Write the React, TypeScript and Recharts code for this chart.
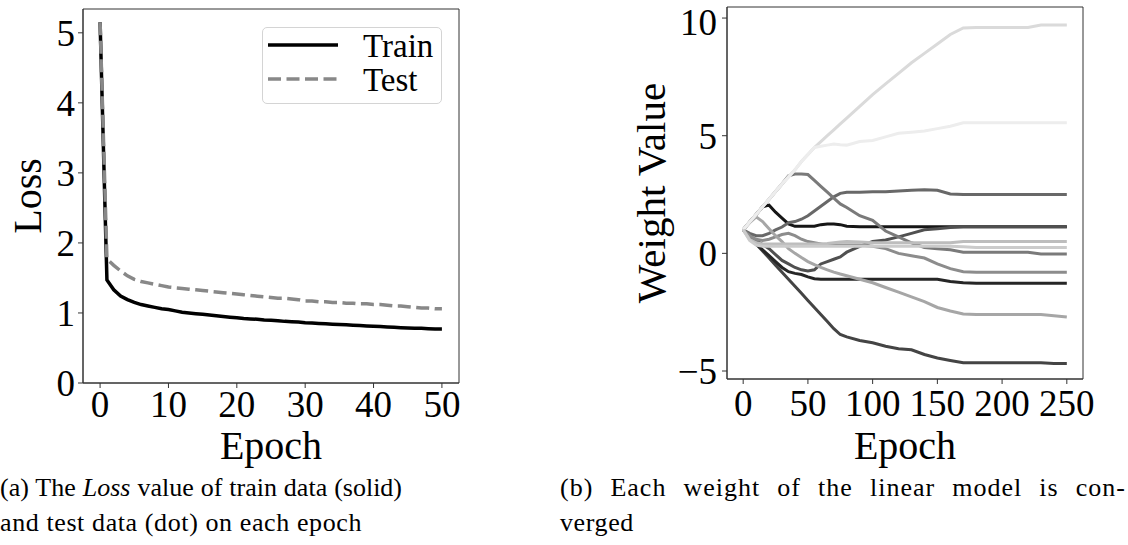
import React from "react";
import { LineChart, Line, XAxis, YAxis, ReferenceArea } from "recharts";

const FONT = "'Liberation Serif', 'Times New Roman', serif";

// (a) loss per epoch
const lossEpochs = [
  0, 1, 2, 3, 4, 5, 6, 7, 8, 9, 10, 11, 12, 13, 14, 15, 16, 17, 18, 19, 20, 21, 22, 23, 24, 25,
  26, 27, 28, 29, 30, 31, 32, 33, 34, 35, 36, 37, 38, 39, 40, 41, 42, 43, 44, 45, 46, 47, 48, 49, 50,
];
const trainLoss = [
  5.15, 1.47, 1.33, 1.24, 1.19, 1.15, 1.12, 1.1, 1.08, 1.06, 1.05, 1.03, 1.01, 1.0, 0.99, 0.98,
  0.97, 0.96, 0.95, 0.94, 0.93, 0.92, 0.915, 0.91, 0.9, 0.895, 0.89, 0.88, 0.875, 0.87, 0.86,
  0.855, 0.85, 0.845, 0.84, 0.835, 0.83, 0.825, 0.82, 0.815, 0.81, 0.805, 0.8, 0.795, 0.79, 0.785,
  0.78, 0.78, 0.775, 0.77, 0.77,
];
const testLoss = [
  5.15, 1.77, 1.68, 1.6, 1.53, 1.48, 1.45, 1.43, 1.41, 1.39, 1.37, 1.36, 1.35, 1.34, 1.33, 1.32,
  1.31, 1.3, 1.29, 1.28, 1.27, 1.26, 1.25, 1.24, 1.23, 1.22, 1.21, 1.21, 1.2, 1.19, 1.17, 1.17,
  1.16, 1.16, 1.15, 1.15, 1.14, 1.14, 1.13, 1.13, 1.12, 1.12, 1.11, 1.1, 1.1, 1.09, 1.08, 1.07,
  1.07, 1.06, 1.06,
];
const lossXTicks = [0, 10, 20, 30, 40, 50];
const lossYTicks = [0, 1, 2, 3, 4, 5];
const lossNames = ["Train", "Test"];

// (b) weight values per epoch
const weightEpochs = [
  0, 5, 10, 15, 20, 25, 30, 35, 40, 45, 50, 55, 60, 65, 70, 75, 80, 90, 100, 110, 120, 130, 140,
  150, 160, 170, 180, 190, 200, 210, 220, 230, 240, 250,
];
const w1 = [1.0, 1.33, 1.65, 1.98, 2.3, 2.63, 2.95, 3.25, 3.55, 3.9, 4.2, 4.5, 4.75, 5.0, 5.25, 5.5, 5.75, 6.25, 6.75, 7.2, 7.65, 8.1, 8.5, 8.9, 9.3, 9.58, 9.6, 9.6, 9.6, 9.6, 9.6, 9.7, 9.7, 9.7];
const w2 = [1.0, 1.33, 1.65, 1.98, 2.3, 2.63, 2.95, 3.25, 3.55, 3.9, 4.2, 4.5, 4.55, 4.6, 4.65, 4.62, 4.6, 4.75, 4.8, 4.95, 5.1, 5.15, 5.2, 5.3, 5.4, 5.55, 5.55, 5.55, 5.55, 5.55, 5.55, 5.55, 5.55, 5.55];
const w3 = [1.0, 1.33, 1.65, 1.98, 2.3, 2.63, 2.95, 3.3, 3.37, 3.37, 3.35, 3.1, 2.85, 2.6, 2.35, 2.1, 1.95, 1.6, 1.4, 0.95, 0.7, 0.45, 0.25, 0.2, 0.15, 0.05, 0.05, 0.05, 0.05, 0.05, 0.05, -0.03, -0.03, -0.03];
const w4 = [1.0, 0.85, 0.75, 0.75, 0.85, 1.0, 1.12, 1.3, 1.35, 1.45, 1.6, 1.8, 2.0, 2.2, 2.4, 2.55, 2.6, 2.6, 2.62, 2.62, 2.65, 2.68, 2.7, 2.68, 2.52, 2.5, 2.5, 2.5, 2.5, 2.5, 2.5, 2.5, 2.5, 2.5];
const w5 = [1.0, 1.33, 1.65, 1.98, 2.05, 1.75, 1.5, 1.25, 1.15, 1.15, 1.15, 1.15, 1.22, 1.25, 1.25, 1.22, 1.15, 1.13, 1.13, 1.13, 1.13, 1.13, 1.13, 1.13, 1.13, 1.13, 1.13, 1.13, 1.13, 1.13, 1.13, 1.13, 1.13, 1.13];
const w6 = [1.0, 0.75, 0.55, 0.38, 0.2, -0.05, -0.3, -0.45, -0.6, -0.7, -0.75, -0.7, -0.45, -0.35, -0.25, -0.15, 0.05, 0.3, 0.5, 0.57, 0.7, 0.85, 1.0, 1.05, 1.1, 1.13, 1.13, 1.13, 1.13, 1.13, 1.13, 1.13, 1.13, 1.13];
const w7 = [1.0, 0.7, 0.4, 0.15, -0.1, -0.35, -0.6, -0.78, -0.85, -0.9, -1.0, -1.08, -1.1, -1.1, -1.1, -1.1, -1.1, -1.1, -1.1, -1.1, -1.1, -1.1, -1.1, -1.1, -1.2, -1.25, -1.27, -1.27, -1.27, -1.27, -1.27, -1.27, -1.27, -1.27];
const w8 = [1.0, 1.3, 1.55, 1.35, 1.05, 0.75, 0.5, 0.2, 0.0, -0.18, -0.35, -0.48, -0.6, -0.7, -0.8, -0.88, -0.95, -1.1, -1.25, -1.45, -1.65, -1.85, -2.05, -2.3, -2.45, -2.58, -2.6, -2.6, -2.6, -2.6, -2.6, -2.6, -2.65, -2.7];
const w9 = [1.0, 0.75, 0.6, 0.55, 0.6, 0.7, 0.8, 0.85, 0.75, 0.6, 0.5, 0.45, 0.4, 0.35, 0.35, 0.35, 0.35, 0.35, 0.3, 0.2, 0.0, -0.1, -0.2, -0.45, -0.65, -0.78, -0.8, -0.8, -0.8, -0.8, -0.8, -0.8, -0.8, -0.8];
const w10 = [1.0, 0.6, 0.45, 0.4, 0.4, 0.4, 0.4, 0.4, 0.4, 0.4, 0.4, 0.4, 0.4, 0.42, 0.45, 0.48, 0.5, 0.48, 0.45, 0.45, 0.45, 0.45, 0.45, 0.45, 0.45, 0.5, 0.5, 0.5, 0.5, 0.5, 0.5, 0.5, 0.5, 0.5];
const w11 = [1.0, 0.55, 0.35, 0.3, 0.3, 0.3, 0.3, 0.3, 0.3, 0.3, 0.3, 0.3, 0.3, 0.3, 0.3, 0.3, 0.3, 0.3, 0.3, 0.3, 0.3, 0.3, 0.3, 0.3, 0.3, 0.28, 0.25, 0.25, 0.25, 0.25, 0.25, 0.25, 0.25, 0.25];
const w12 = [1.0, 0.7, 0.4, 0.1, -0.2, -0.5, -0.8, -1.1, -1.4, -1.7, -2.0, -2.3, -2.6, -2.9, -3.2, -3.45, -3.55, -3.7, -3.8, -3.95, -4.05, -4.1, -4.3, -4.45, -4.55, -4.65, -4.65, -4.65, -4.65, -4.65, -4.65, -4.65, -4.68, -4.68];

// drawing order: later ones sit on top
const weightValues = [w12, w7, w5, w6, w4, w3, w9, w8, w1, w2, w10, w11];
const weightColors = ["#444444", "#262626", "#161616", "#505050", "#686868", "#7a7a7a", "#8c8c8c", "#a6a6a6", "#dadada", "#ededed", "#bdbdbd", "#cbcbcb"];
const weightXTicks = [0, 50, 100, 150, 200, 250];
const weightYTicks = [-5, 0, 5, 10];

const lossRows = lossEpochs.map((epoch, i) => ({ epoch, train: trainLoss[i], test: testLoss[i] }));
const weightRows = weightEpochs.map((epoch, i) => {
  const row: Record<string, number> = { epoch };
  weightValues.forEach((vals, k) => {
    row[`w${k}`] = vals[i];
  });
  return row;
});

const FRAME = "#333333";
const tickStyle = { fontSize: 37, fill: "#000", fontFamily: FONT };
const labelStyle = { fontSize: 40, fill: "#000", fontFamily: FONT, textAnchor: "middle" as const };
const minusFmt = (v: number) => (v < 0 ? `\u2212${Math.abs(v)}` : `${v}`);

function LossLegend() {
  return (
    <div
      style={{
        position: "absolute",
        left: 262,
        top: 27,
        width: 178,
        height: 75,
        border: "1px solid #d4d4d4",
        borderRadius: 5,
        background: "rgba(255,255,255,0.8)",
      }}
    >
      <svg width={178} height={75} style={{ display: "block" }}>
        <line x1={5} x2={75} y1={17} y2={17} stroke="#000" strokeWidth={3.5} />
        <line x1={5} x2={75} y1={51} y2={51} stroke="#888" strokeWidth={3.5} strokeDasharray="13 5.5" />
        <text x={100} y={29} fontSize={33} fontFamily={FONT} fill="#000">
          {lossNames[0]}
        </text>
        <text x={100} y={63} fontSize={33} fontFamily={FONT} fill="#000">
          {lossNames[1]}
        </text>
      </svg>
    </div>
  );
}

const captionBase: React.CSSProperties = {
  position: "absolute",
  fontFamily: FONT,
  fontSize: 26,
  lineHeight: "36px",
  color: "#000",
  whiteSpace: "nowrap",
};

export default function App() {
  return (
    <div style={{ position: "absolute", left: 0, top: 0, width: 1128, height: 545, background: "#fff", overflow: "hidden" }}>
      <div style={{ position: "absolute", left: 0, top: 0 }}>
        <LineChart width={480} height={470} data={lossRows} margin={{ top: 9, right: 21, bottom: 0, left: 0 }}>
          <XAxis
            dataKey="epoch"
            type="number"
            domain={[-2.5, 52.5]}
            ticks={lossXTicks}
            allowDataOverflow
            height={87}
            stroke={FRAME}
            tickSize={5}
            tickMargin={3}
            tick={tickStyle}
            label={{ value: "Epoch", position: "insideBottom", offset: 11, style: labelStyle }}
          />
          <YAxis
            type="number"
            domain={[0, 5.34]}
            ticks={lossYTicks}
            allowDataOverflow
            width={83}
            stroke={FRAME}
            tickSize={5}
            tickMargin={3}
            tick={tickStyle}
            label={{ value: "Loss", angle: -90, position: "insideLeft", offset: 27, style: labelStyle }}
          />
          <ReferenceArea x1={-2.5} x2={52.5} y1={0} y2={5.34} fill="none" stroke={FRAME} strokeWidth={1} />
          <Line type="linear" dataKey="train" stroke="#000" strokeWidth={3.5} dot={false} isAnimationActive={false} />
          <Line
            type="linear"
            dataKey="test"
            stroke="#888"
            strokeWidth={3.5}
            strokeDasharray="13 5.5"
            dot={false}
            isAnimationActive={false}
          />
        </LineChart>
        <LossLegend />
      </div>

      <div style={{ position: "absolute", left: 560, top: 0 }}>
        <LineChart width={568} height={470} data={weightRows} margin={{ top: 7, right: 45, bottom: 0, left: 0 }}>
          <XAxis
            dataKey="epoch"
            type="number"
            domain={[-12.5, 262.5]}
            ticks={weightXTicks}
            allowDataOverflow
            height={91}
            stroke={FRAME}
            tickSize={5}
            tickMargin={6}
            tick={tickStyle}
            interval={0}
            label={{ value: "Epoch", position: "insideBottom", offset: 11, style: labelStyle }}
          />
          <YAxis
            type="number"
            domain={[-5.34, 10.47]}
            ticks={weightYTicks}
            allowDataOverflow
            width={167}
            stroke={FRAME}
            tickSize={5}
            tickMargin={5}
            tick={tickStyle}
            tickFormatter={minusFmt}
            label={{ value: "Weight Value", angle: -90, position: "insideLeft", offset: 90, style: { ...labelStyle, fontSize: 41 } }}
          />
          <ReferenceArea x1={-12.5} x2={262.5} y1={-5.34} y2={10.47} fill="none" stroke={FRAME} strokeWidth={1} />
          {weightValues.map((_, k) => (
            <Line
              key={k}
              type="linear"
              dataKey={`w${k}`}
              stroke={weightColors[k]}
              strokeWidth={3}
              dot={false}
              isAnimationActive={false}
            />
          ))}
        </LineChart>
      </div>

      <div style={{ ...captionBase, left: 0, top: 470, width: 402, textAlign: "justify", textAlignLast: "justify" }}>
        (a) The <i>Loss</i> value of train data (solid)
      </div>
      <div style={{ ...captionBase, left: 0, top: 505, letterSpacing: 0.6 }}>and test data (dot) on each epoch</div>
      <div
        style={{
          ...captionBase,
          left: 560,
          top: 470,
          width: 566,
          letterSpacing: 1,
          textAlign: "justify",
          textAlignLast: "justify",
        }}
      >
        (b) Each weight of the linear model is con-
      </div>
      <div style={{ ...captionBase, left: 560, top: 505, letterSpacing: 0.6 }}>verged</div>
    </div>
  );
}
